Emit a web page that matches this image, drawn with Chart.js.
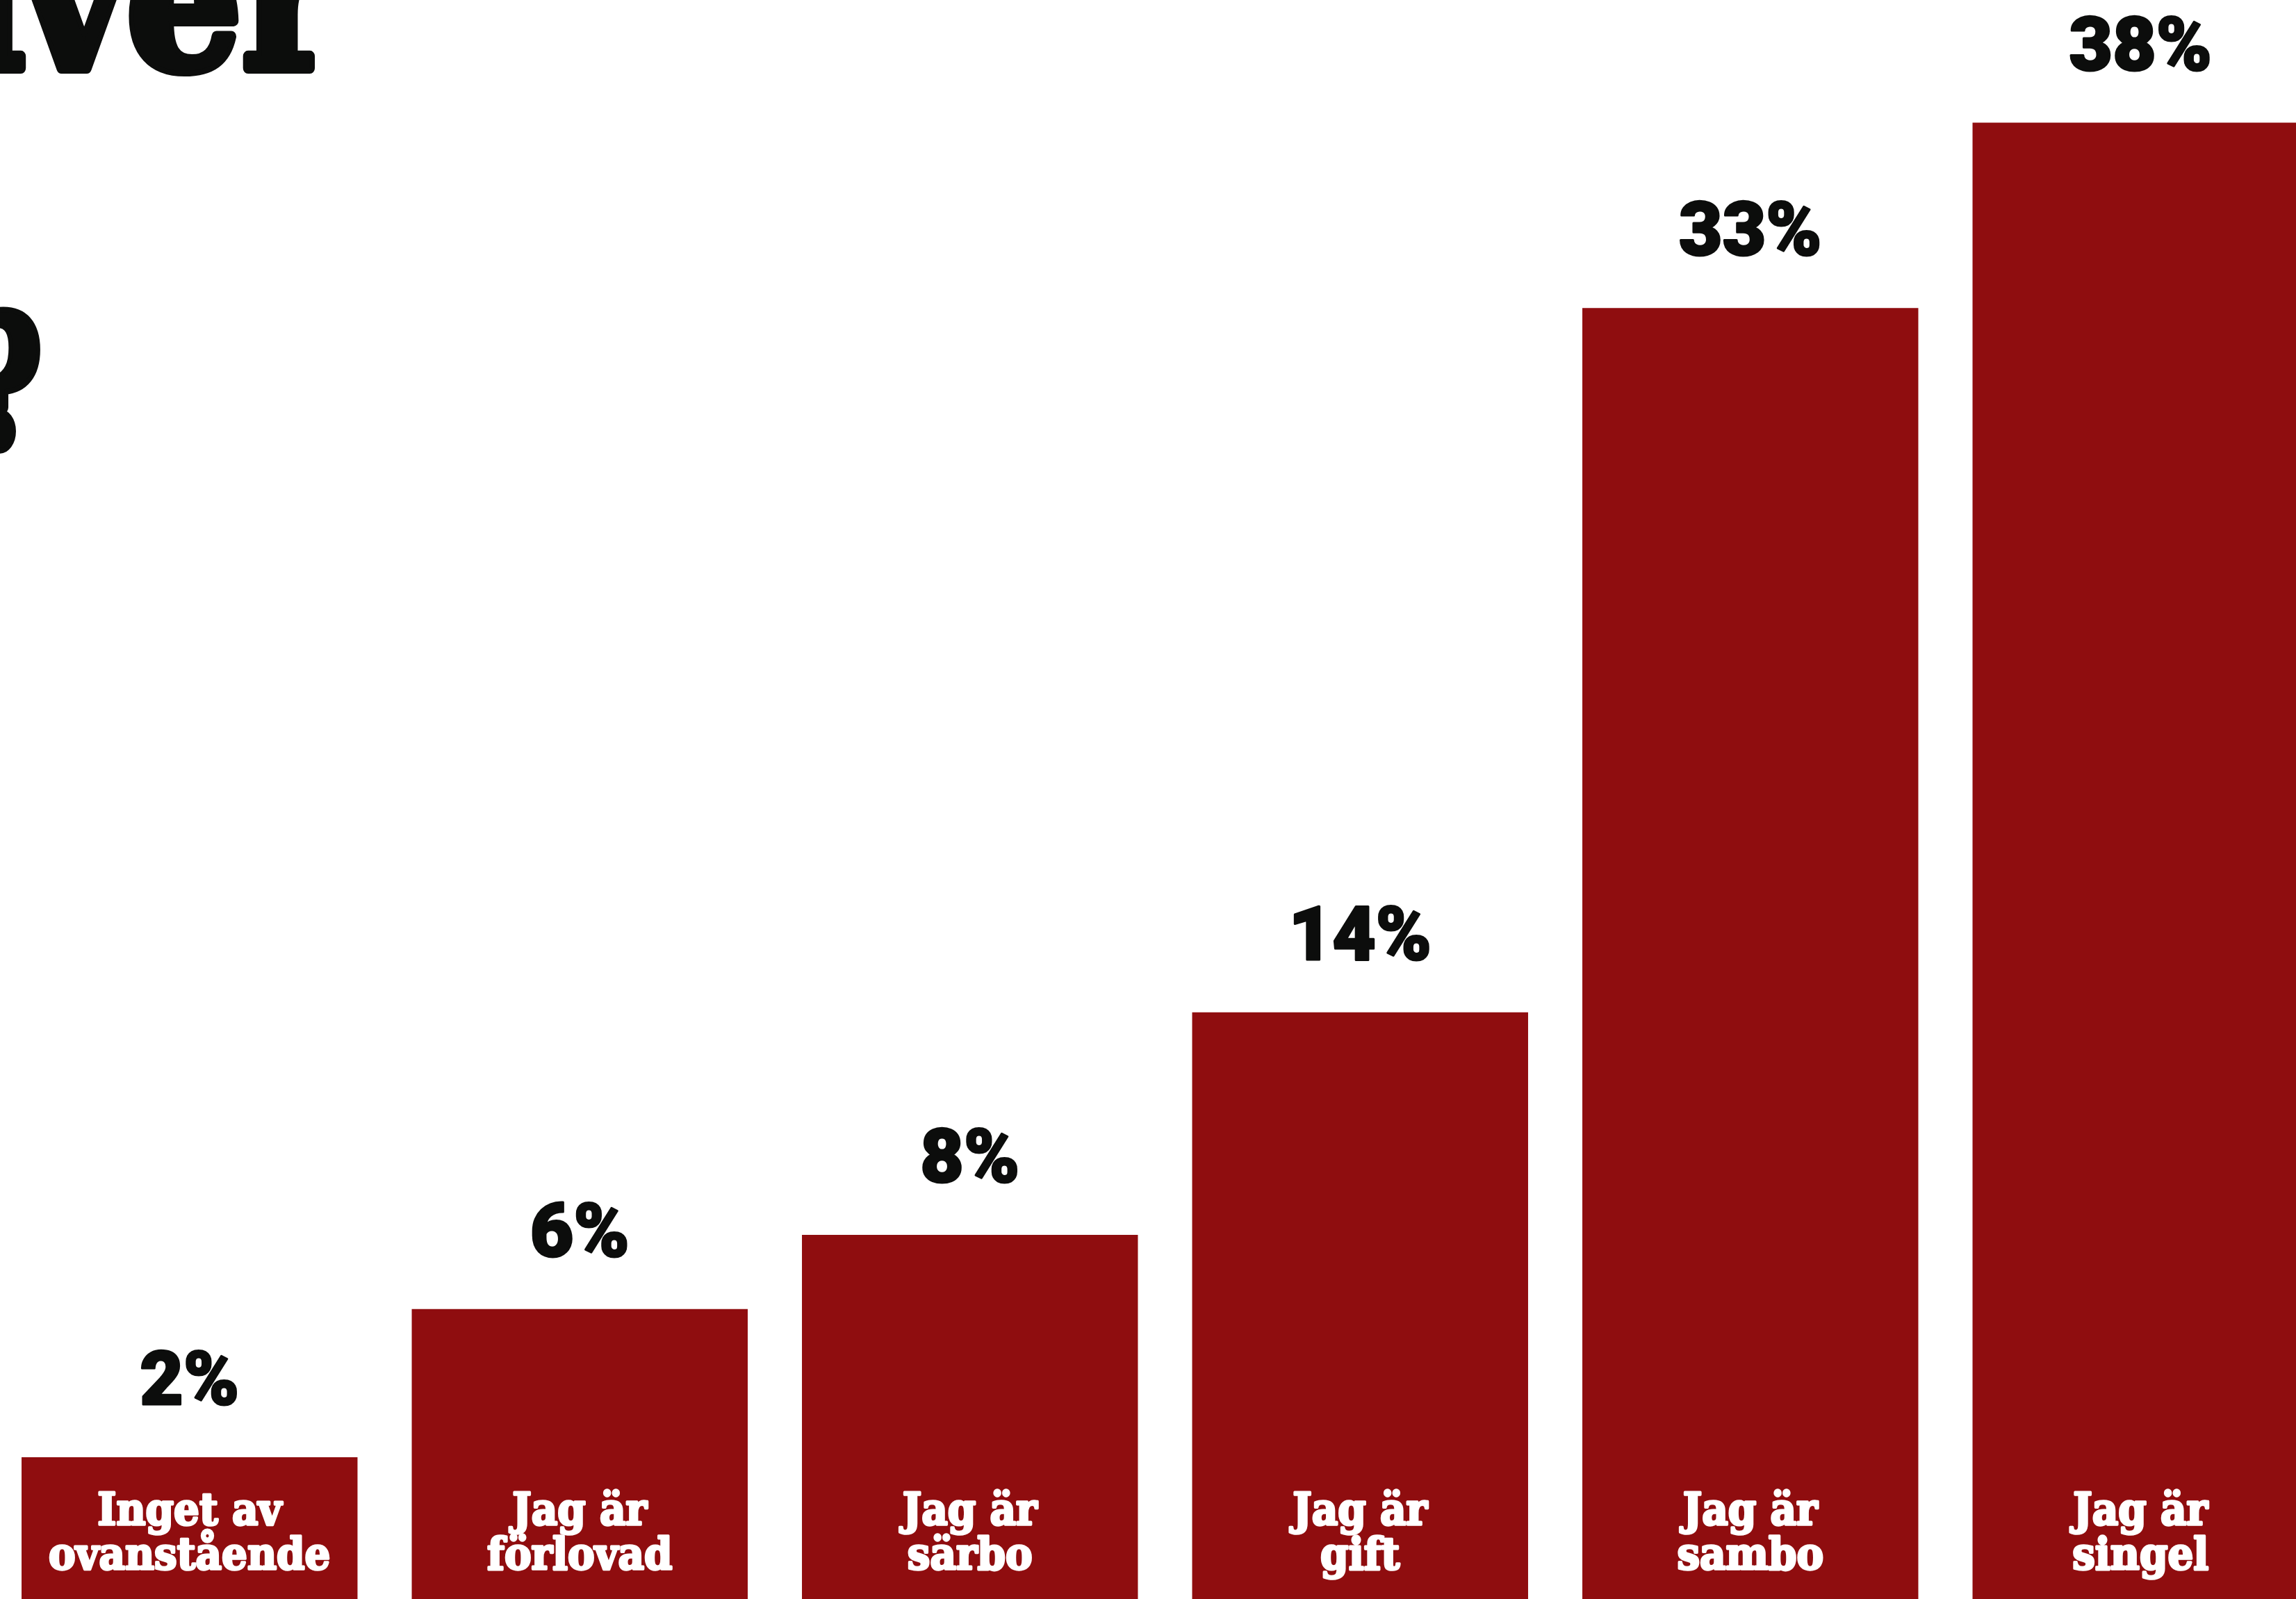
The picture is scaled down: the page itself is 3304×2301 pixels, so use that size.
<!DOCTYPE html>
<html lang="sv">
<head>
<meta charset="utf-8">
<title>Civilstånd</title>
<script src="https://cdn.jsdelivr.net/npm/chart.js@4.4.1/dist/chart.umd.min.js"></script>
<style>
  html, body { margin: 0; padding: 0; background: #fff; overflow: hidden; }
  body { width: 3304px; height: 2301px; position: relative; }
  .wrap { position: absolute; left: -8.5px; top: 0; width: 3369px; height: 2301px; }
</style>
</head>
<body>
<div class="wrap"><canvas id="barChart"></canvas></div>
<script>
  // ── DATA ──
  const categories = [
    ['Inget av', 'ovanstående'],
    ['Jag är', 'förlovad'],
    ['Jag är', 'särbo'],
    ['Jag är', 'gift'],
    ['Jag är', 'sambo'],
    ['Jag är', 'singel']
  ];
  const shares = [2, 6, 8, 14, 33, 38];
  const valueLabels = ['2%', '6%', '8%', '14%', '33%', '38%'];
  const titleStart = 'i';
  const titleWord = 'ver';
  const titleMark = '?';

  const yMin = -1.824;
  const yMax = 41.31;
  const barRed = '#8f0d0f';
  const ink = '#0c0d0c';
  const shiftX = 8.5;   // canvas sits 8.5px left of the page

  // draws text squeezed sideways and thickened with a stroke
  function heavyText(ctx, text, x, y, font, color, sx, stroke, align) {
    ctx.save();
    ctx.font = font;
    ctx.fillStyle = color;
    ctx.strokeStyle = color;
    ctx.lineJoin = 'round';
    ctx.lineWidth = stroke;
    ctx.textAlign = align || 'center';
    ctx.textBaseline = 'alphabetic';
    ctx.translate(x, y);
    ctx.scale(sx, 1);
    if (stroke > 0) ctx.strokeText(text, 0, 0);
    ctx.fillText(text, 0, 0);
    ctx.restore();
  }

  // ── LABELS + TITLE ──
  const textPlugin = {
    id: 'textPlugin',
    beforeDraw(chart) {
      const ctx = chart.ctx;
      const wf = 'bold 290px "DejaVu Serif"';
      heavyText(ctx, titleWord, 485 + shiftX, 98, wf, ink, 0.9, 16, 'right');
      heavyText(ctx, titleStart, 36 + shiftX, 98, wf, ink, 0.9, 16, 'right');
      heavyText(ctx, titleMark, 60 + shiftX, 641, 'bold 258px "DejaVu Serif"', ink, 0.72, 16, 'right');
    },
    afterDatasetsDraw(chart) {
      const ctx = chart.ctx;
      const bottom = chart.chartArea.bottom;
      chart.getDatasetMeta(0).data.forEach((bar, i) => {
        heavyText(ctx, valueLabels[i], bar.x, bar.y - 76, '900 108px Roboto', ink, 1, 3);
        categories[i].forEach((line, j) => {
          heavyText(ctx, line, bar.x, bottom - 107 + j * 64, 'bold 63px "DejaVu Serif"', '#ffffff', 0.92, 3.5);
        });
      });
    }
  };

  // ── BAR CHART ──
  const barCtx = document.getElementById('barChart').getContext('2d');
  new Chart(barCtx, {
    type: 'bar',
    data: {
      labels: categories,
      datasets: [{
        data: shares,
        backgroundColor: barRed,
        borderWidth: 0,
        base: yMin,
        categoryPercentage: 1,
        barPercentage: 0.861
      }]
    },
    options: {
      responsive: true,
      maintainAspectRatio: false,
      devicePixelRatio: 1,
      animation: false,
      layout: { padding: 0 },
      plugins: {
        legend: { display: false },
        tooltip: { enabled: false }
      },
      scales: {
        x: { display: false, offset: true, grid: { display: false } },
        y: { display: false, min: yMin, max: yMax, grid: { display: false } }
      }
    },
    plugins: [textPlugin]
  });
</script>
</body>
</html>
